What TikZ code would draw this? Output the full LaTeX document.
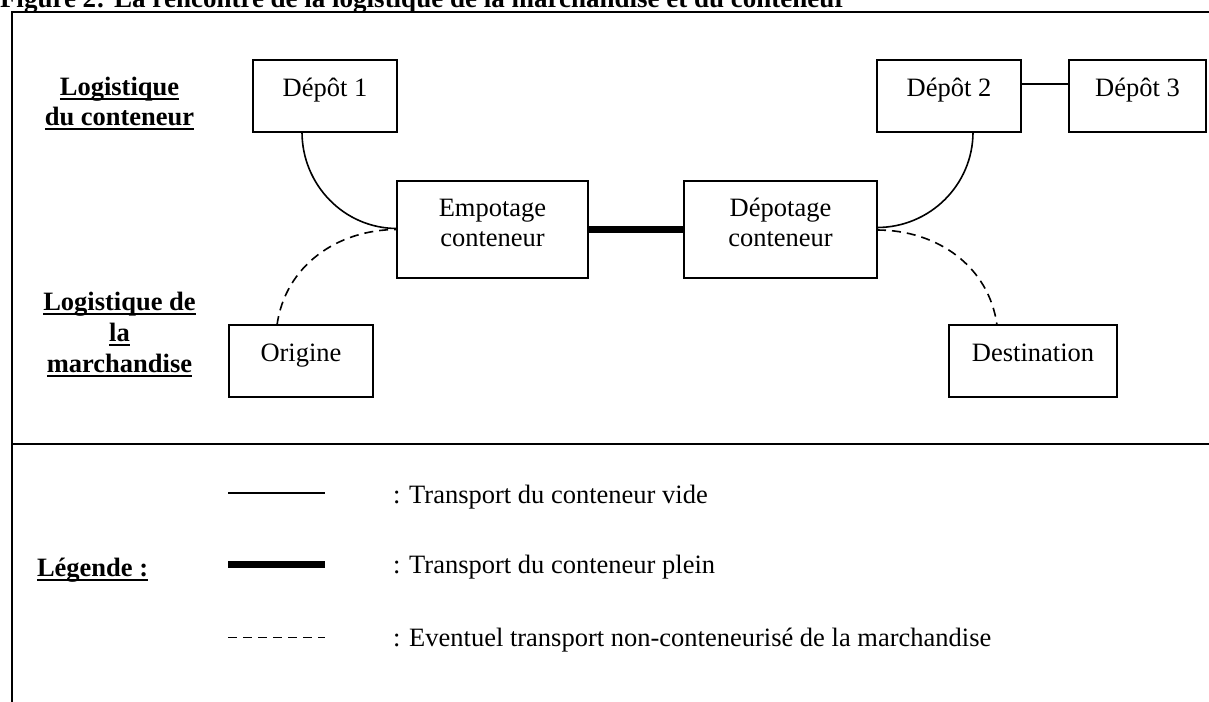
\documentclass[tikz,border=0pt]{standalone}
\usepackage{fontspec}
\setmainfont{Liberation Serif}
\newcommand\diagfont{\fontsize{26.5pt}{30pt}\selectfont}
\newcommand\titlefont{\fontsize{27pt}{30pt}\selectfont\bfseries}
\newcommand\myuline[1]{\leavevmode\setbox0\hbox{#1}\rlap{\rule[-5pt]{\wd0}{1.9pt}}\box0}
\begin{document}
\begin{tikzpicture}[x=1pt,y=-1pt,
  every node/.style={inner sep=0pt, outer sep=0pt, font=\diagfont},
  boxone/.style={draw, line width=1.8pt, text height=14pt, text depth=14pt},
  boxtwo/.style={draw, line width=1.8pt, text height=20pt, text depth=47pt},
  lbl/.style={font=\diagfont\bfseries},
  vide/.style={line width=1.6pt},
  plein/.style={line width=7pt},
  marchandise/.style={line width=1.6pt, dash pattern=on 9pt off 6pt},
  frameline/.style={line width=2.2pt}]
\useasboundingbox (0,0) rectangle (1209,701);
% title and frame
\node[font=\titlefont, anchor=base west] (title) at (0,7.5) {Figure 2: La rencontre de la logistique de la marchandise et du conteneur};
\coordinate (ftl) at (12,12);
\coordinate (ftr) at (1215,12);
\coordinate (fbl) at (12,710);
\coordinate (dl) at (12,444);
\coordinate (dr) at (1215,444);
\draw[frameline, line cap=rect] (ftr) -- (ftl) -- (fbl);
\draw[frameline] (dl) -- (dr);
% row labels
\node[lbl, anchor=base] (lc) at (119.5,95) {\begin{tabular}[t]{@{}c@{}}\myuline{Logistique}\\\myuline{du conteneur}\end{tabular}};
\node[lbl, anchor=base] (lm) at (119.5,310) {\begin{tabular}[t]{@{}c@{}}\myuline{Logistique de}\\[1pt]\myuline{la}\\[1pt]\myuline{marchandise}\end{tabular}};
% boxes
\node[boxone, minimum width=144pt, minimum height=72pt] (d1) at (325,96) {Dépôt 1};
\node[boxone, minimum width=144pt, minimum height=72pt] (d2) at (949,96) {Dépôt 2};
\node[boxone, minimum width=137pt, minimum height=72pt] (d3) at (1137.5,96) {Dépôt 3};
\node[boxtwo, minimum width=191pt, minimum height=97pt] (emp) at (492.5,229.5) {\begin{tabular}[t]{@{}c@{}}Empotage\\conteneur\end{tabular}};
\node[boxtwo, minimum width=193pt, minimum height=97pt] (dep) at (780.5,229.5) {\begin{tabular}[t]{@{}c@{}}Dépotage\\conteneur\end{tabular}};
\node[boxone, minimum width=144pt, minimum height=72pt] (orig) at (301,361) {Origine};
\node[boxone, minimum width=168pt, minimum height=72pt] (dest) at (1033,361) {Destination};
% connectors
\draw[vide] ([xshift=-23pt]d1.south) to[out=-90,in=180] ([yshift=1pt]emp.west);
\draw[vide] ([xshift=24pt]d2.south) to[out=-90,in=0] ([yshift=2pt]dep.east);
\draw[vide] ([yshift=12pt]d2.east) -- ([yshift=12pt]d3.west);
\draw[plein] (emp.east) -- (dep.west);
\draw[marchandise] ([xshift=-24pt]orig.north) to[out=82,in=180] ([yshift=0pt]emp.west);
\draw[marchandise] ([yshift=-0.5pt]dep.east) to[out=0,in=98] ([xshift=-36pt]dest.north);
% legend
\node[lbl, anchor=base west] (leg) at (37,576) {\myuline{Légende :}};
\coordinate (l1a) at (228,493); \coordinate (l1b) at (325,493);
\coordinate (l2a) at (228,564.5); \coordinate (l2b) at (325,564.5);
\coordinate (l3a) at (228,637.5); \coordinate (l3b) at (325,637.5);
\draw[vide] (l1a) -- (l1b);
\draw[plein] (l2a) -- (l2b);
\draw[marchandise] (l3a) -- (l3b);
\node[anchor=base west] (t1) at (393,503) {: Transport du conteneur vide};
\node[anchor=base west] (t2) at (393,573) {: Transport du conteneur plein};
\node[anchor=base west] (t3) at (393,646) {: Eventuel transport non-conteneurisé de la marchandise};
\end{tikzpicture}
\end{document}
